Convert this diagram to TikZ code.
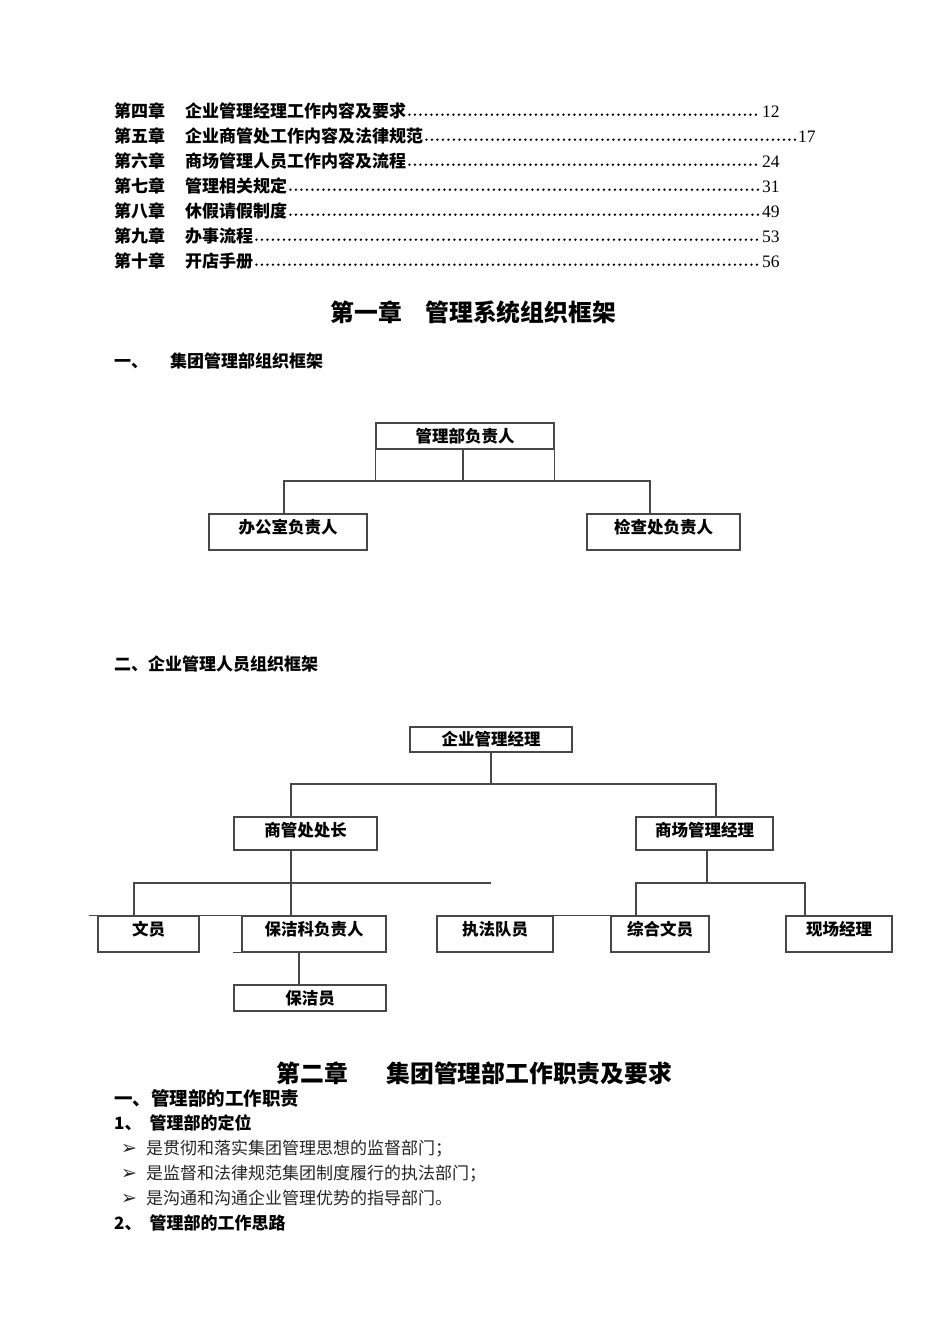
\documentclass[tikz,border=0pt]{standalone}
\usepackage{fontspec}
\setmainfont{Liberation Serif}
\newfontfamily\cjk{Noto Sans CJK SC}
\newfontfamily\symf{DejaVu Sans}
\newfontfamily\numf{Liberation Serif}
\begin{document}
\begin{tikzpicture}[x=1pt,y=-1pt,
  ln/.style={draw=black!72, line width=1.1pt},
  orgbox/.style={ln, inner sep=0pt, font=\cjk\bfseries\fontsize{16.5}{16.5}\selectfont},
  tc/.style={text height=13pt, text depth=0.4pt},
  tu/.style={text height=10pt, text depth=7.5pt},
  tm/.style={text height=11pt, text depth=5pt},
  toc/.style={inner sep=0pt, anchor=base west, font=\cjk\bfseries\fontsize{17}{17}\selectfont},
  pg/.style={inner sep=0pt, anchor=base west, font=\numf\fontsize{17.5}{17.5}\selectfont},
  leader/.style={dash pattern=on 0pt off 5.5pt, line cap=round, line width=2.7pt},
  bigtitle/.style={inner sep=0pt, anchor=base west, font=\cjk\bfseries\fontsize{23.8}{23.8}\selectfont},
  headbig/.style={inner sep=0pt, anchor=base west, font=\cjk\bfseries\fontsize{18.5}{18.5}\selectfont},
  bodytxt/.style={inner sep=0pt, anchor=base west, text=black!85, font=\cjk\fontsize{17}{17}\selectfont},
]
\useasboundingbox (0,0) rectangle (950,1344);
\fill[white] (0,0) rectangle (950,1344);

% ---------- table of contents ----------
\node[toc] (c1) at (114,117.5) {第四章};
\node[toc] (t1) at (185,117.5) {企业管理经理工作内容及要求};
\node[pg]  (p1) at (762,117.5) {12};
\node[toc] (c2) at (114,142.5) {第五章};
\node[toc] (t2) at (185,142.5) {企业商管处工作内容及法律规范};
\node[pg]  (p2) at (798,142.5) {17};
\node[toc] (c3) at (114,167.5) {第六章};
\node[toc] (t3) at (185,167.5) {商场管理人员工作内容及流程};
\node[pg]  (p3) at (762,167.5) {24};
\node[toc] (c4) at (114,192.5) {第七章};
\node[toc] (t4) at (185,192.5) {管理相关规定};
\node[pg]  (p4) at (762,192.5) {31};
\node[toc] (c5) at (114,217.5) {第八章};
\node[toc] (t5) at (185,217.5) {休假请假制度};
\node[pg]  (p5) at (762,217.5) {49};
\node[toc] (c6) at (114,242.5) {第九章};
\node[toc] (t6) at (185,242.5) {办事流程};
\node[pg]  (p6) at (762,242.5) {53};
\node[toc] (c7) at (114,267.5) {第十章};
\node[toc] (t7) at (185,267.5) {开店手册};
\node[pg]  (p7) at (762,267.5) {56};
\foreach \i in {1,...,7}{
  \draw[leader] ([xshift=3pt,yshift=2.8pt]t\i.base east) -- ([xshift=-1.5pt,yshift=2.8pt]p\i.base west);
}

% ---------- chapter 1 ----------
\node[bigtitle] (h1) at (330.5,321) {第一章\hspace{23.5pt}管理系统组织框架};
\node[toc] (s1) at (114,367.5) {一、\hspace{22pt}集团管理部组织框架};

% chart 1
\node[orgbox, tc, minimum width=178pt, minimum height=26pt] (mg) at (465,436) {管理部负责人};
\node[orgbox, tu, minimum width=158pt, minimum height=36pt] (bg) at (288,532) {办公室负责人};
\node[orgbox, tu, minimum width=153pt, minimum height=36pt] (jc) at (663.5,532) {检查处负责人};
\coordinate (b1) at (463,481);
\draw[ln] (mg.south west) -- (mg.south west |- b1);
\draw[ln] (mg.south east) -- (mg.south east |- b1);
\draw[ln] (mg.south -| b1) -- (b1);
\draw[ln] ([xshift=-4pt]bg.north) |- (b1) -| ([xshift=-13.5pt]jc.north);

\node[toc] (s2) at (114,670.5) {二、企业管理人员组织框架};

% chart 2
\node[orgbox, tc, minimum width=162pt, minimum height=25pt] (qy) at (491,739.5) {企业管理经理};
\node[orgbox, tm, minimum width=143pt, minimum height=33pt] (sg) at (305.5,833.5) {商管处处长};
\node[orgbox, tm, minimum width=137pt, minimum height=33pt] (sc) at (704.5,833.5) {商场管理经理};
\node[orgbox, tu, minimum width=101pt, minimum height=36pt] (wy) at (148.5,934) {文员};
\node[orgbox, tu, minimum width=144pt, minimum height=36pt] (bj) at (314,934) {保洁科负责人};
\node[orgbox, tu, minimum width=116pt, minimum height=36pt] (zf) at (495,934) {执法队员};
\node[orgbox, tu, minimum width=98pt, minimum height=36pt] (zh) at (660,934) {综合文员};
\node[orgbox, tu, minimum width=106pt, minimum height=36pt] (xc) at (839,934) {现场经理};
\node[orgbox, tc, minimum width=152pt, minimum height=26pt] (bjy) at (310,998) {保洁员};

\coordinate (b2) at (491,784);
\draw[ln] (qy.south) -- (b2);
\draw[ln] ([xshift=-14.5pt]sg.north) |- (b2) -| ([xshift=11.5pt]sc.north);
\coordinate (b3) at (491,883);
\draw[ln] ([xshift=-14.5pt]sg.south) -- ([xshift=-14.5pt]sg.south |- bj.north);
\draw[ln] ([xshift=-14.5pt]wy.north) |- (b3);
\draw[ln] ([xshift=-15pt]bj.south) -- ([xshift=-15pt]bj.south |- bjy.north);
\coordinate (b4) at (707,883);
\draw[ln] ([xshift=2.5pt]sc.south) -- (b4);
\draw[ln] ([xshift=-24pt]zh.north) |- (b4) -| ([xshift=-34pt]xc.north);
\draw[ln] (wy.north west) -- ++(-8,0);
\draw[ln] (wy.north east) -- (bj.north west);
\draw[ln] (bj.south west) -- ++(-8,0);
\draw[ln] (zf.north east) -- (zh.north west);

% ---------- chapter 2 ----------
\node[bigtitle] (h2) at (276.5,1082) {第二章\hspace{38.5pt}集团管理部工作职责及要求};
\node[headbig] (s3) at (114,1105) {一、管理部的工作职责};
\node[toc] (s4) at (114,1129.5) {1、\hspace{8pt}管理部的定位};
\node[bodytxt] (l1) at (121,1154.5) {\makebox[25pt][l]{\symf\fontsize{19}{19}\selectfont ➢}是贯彻和落实集团管理思想的监督部门；};
\node[bodytxt] (l2) at (121,1179.5) {\makebox[25pt][l]{\symf\fontsize{19}{19}\selectfont ➢}是监督和法律规范集团制度履行的执法部门；};
\node[bodytxt] (l3) at (121,1204.5) {\makebox[25pt][l]{\symf\fontsize{19}{19}\selectfont ➢}是沟通和沟通企业管理优势的指导部门。};
\node[toc] (s5) at (114,1229.5) {2、\hspace{8pt}管理部的工作思路};
\end{tikzpicture}
\end{document}
